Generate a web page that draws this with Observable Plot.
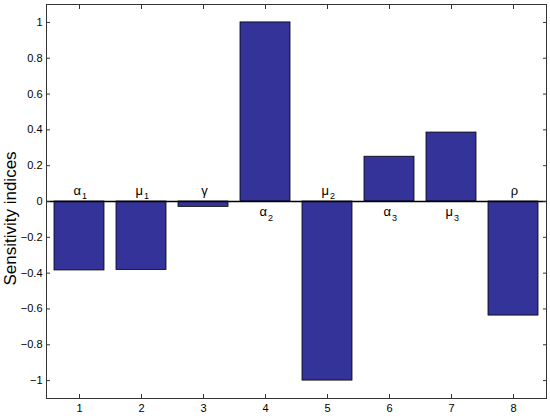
<!DOCTYPE html>
<html>
<head>
<meta charset="utf-8">
<script src="https://cdn.jsdelivr.net/npm/d3@7"></script>
<script src="https://cdn.jsdelivr.net/npm/@observablehq/plot@0.6"></script>
<style>
  body { margin: 0; background: white; }
  g[aria-label="ylabel"] text { letter-spacing: 1.2px; }
</style>
</head>
<body>
<div id="chart"></div>
<script>
const categories = [1, 2, 3, 4, 5, 6, 7, 8];
const values = [-0.385, -0.382, -0.03, 1.0, -1.0, 0.25, 0.385, -0.637];
const letters = ["α", "μ", "γ", "α", "μ", "α", "μ", "ρ"];
const subscripts = ["1", "1", "", "2", "2", "3", "3", ""];
const yTicks = [-1, -0.8, -0.6, -0.4, -0.2, 0, 0.2, 0.4, 0.6, 0.8, 1];
const yLabel = "Sensitivity indices";

const data = categories.map((c, i) => ({c, v: values[i], letter: letters[i], sub: subscripts[i]}));

const font = "'Liberation Sans', Arial, Helvetica, sans-serif";
const axisColor = "#333";
const fmt = d3.format("~g");

function labelMarks(sign, dyLetter, dySub) {
  const s = d => (sign < 0 ? d.v < 0 : d.v >= 0);
  return [
    Plot.text(data, {filter: d => s(d) && d.sub, x: "c", y: () => 0, text: "letter",
      textAnchor: "end", lineAnchor: "bottom", dx: 1.5, dy: dyLetter, fontSize: 13, fill: "black"}),
    Plot.text(data, {filter: d => s(d) && !d.sub, x: "c", y: () => 0, text: "letter",
      textAnchor: "middle", lineAnchor: "bottom", dx: 1, dy: dyLetter, fontSize: 13, fill: "black"}),
    Plot.text(data, {filter: d => s(d) && d.sub, x: "c", y: () => 0, text: "sub",
      textAnchor: "start", lineAnchor: "bottom", dx: 2.5, dy: dySub, fontSize: 9, fill: "black"})
  ];
}

const chart = Plot.plot({
  width: 550,
  height: 416,
  marginLeft: 46,
  marginRight: 4,
  marginTop: 4,
  marginBottom: 18,
  style: {fontFamily: font, fontSize: "11px", background: "white", color: "black"},
  x: {type: "band", domain: categories, paddingInner: 0.2, paddingOuter: 0.1},
  y: {domain: [-1.1, 1.1]},
  marks: [
    Plot.barY(data, {x: "c", y: "v", fill: "#333399", stroke: "#000", strokeWidth: 0.8}),
    Plot.ruleY([0], {stroke: "black", strokeWidth: 1.6}),
    Plot.frame({stroke: axisColor}),
    Plot.axisY(yTicks, {anchor: "left", tickSize: -4, tickPadding: 8, tickFormat: fmt, label: null, stroke: axisColor, fill: "black"}),
    Plot.axisY(yTicks, {anchor: "right", tickSize: -4, tickFormat: () => "", label: null, stroke: axisColor}),
    Plot.axisX({anchor: "bottom", tickSize: -4, tickPadding: 10, label: null, stroke: axisColor, fill: "black"}),
    Plot.axisX({anchor: "top", tickSize: -4, tickFormat: () => "", label: null, stroke: axisColor}),
    ...labelMarks(-1, -7, -3),
    ...labelMarks(1, 14.5, 19),
    Plot.text([yLabel], {frameAnchor: "left", text: d => d, rotate: -90, dx: -31, dy: 17,
      lineAnchor: "bottom", textAnchor: "middle", fontSize: 17, fill: "black", ariaLabel: "ylabel"})
  ]
});

document.getElementById("chart").appendChild(chart);
</script>
</body>
</html>
